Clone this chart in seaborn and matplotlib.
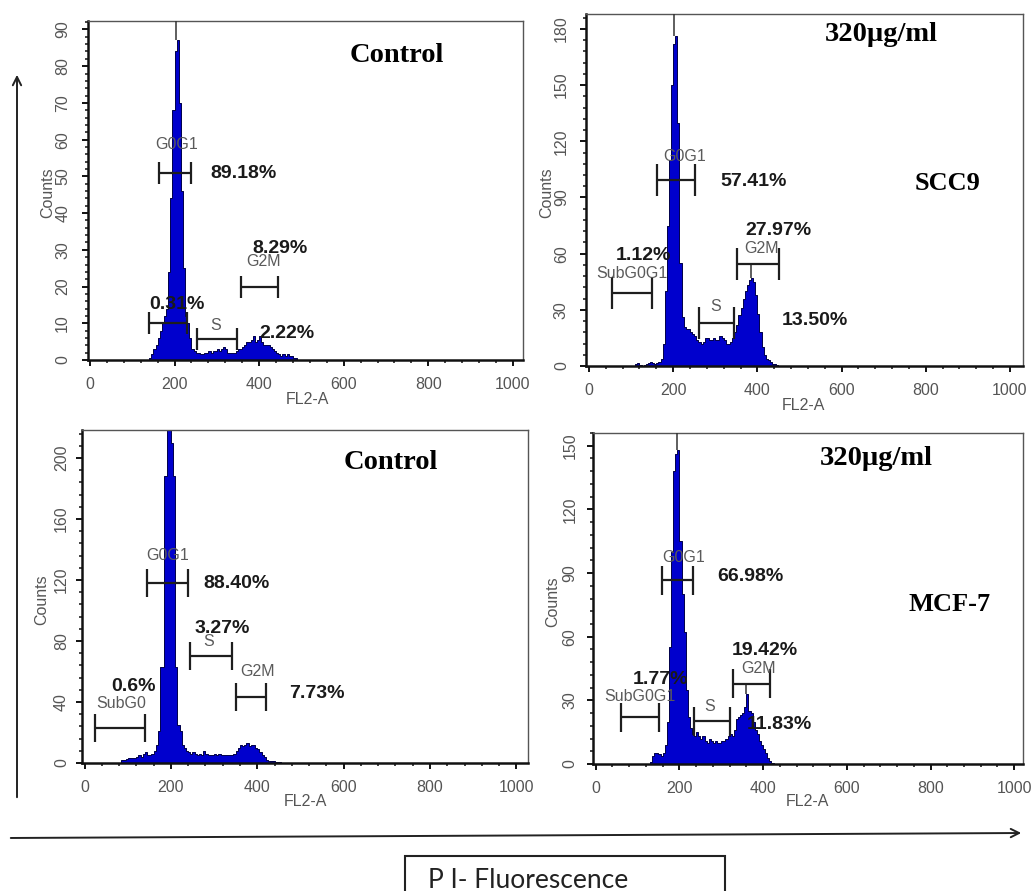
import numpy as np
import pandas as pd
import matplotlib
matplotlib.use("Agg")
import matplotlib.pyplot as plt
from matplotlib.patches import Rectangle, FancyArrowPatch
from matplotlib.ticker import MultipleLocator
import seaborn as sns

# ---------------------------------------------------------------------------
# Data (bin width = 5 channels)
# ---------------------------------------------------------------------------
BIN = 5

# SCC9 control
start_scc9_ctrl = 140
cnt_scc9_ctrl = [0.5, 1.5, 3, 4, 6, 8, 10, 12, 14, 24, 44, 68, 84, 87, 70, 46, 25, 12,
                 10, 6, 3, 2.5, 2, 2, 1.5, 1.5, 2, 2, 2.5, 2, 2.5, 2.5, 3, 2.5, 3, 3.5,
                 3, 2, 2, 2, 2, 2.5, 3, 3, 3.5, 4, 5, 5, 5.5, 6.5, 5, 5.5, 6.5, 5, 4, 4,
                 4, 3.5, 3, 2.5, 2, 1.5, 1, 1.5, 1, 1.5, 1, 1, 0.5, 0.5]

# SCC9 320 ug/ml
start_scc9_320 = 100
cnt_scc9_320 = [0, 0, 1, 1.5, 0.5, 0, 0.5, 1, 1.5, 2, 1.5, 1, 1.5, 2, 4, 12, 40, 75,
                110, 150, 172, 176, 130, 55, 26, 21, 20, 20, 18, 17, 16, 14, 13, 12,
                13, 15, 15, 14, 14, 15, 14, 14, 16, 15, 14, 12, 12, 13, 15, 18, 22, 27,
                31, 36, 40, 43, 46, 47, 45, 38, 28, 18, 10, 6, 4, 3, 2, 1, 1, 0.5]

# MCF-7 control
start_mcf7_ctrl = 85
cnt_mcf7_ctrl = [2, 2, 2.5, 3, 3, 3.5, 3, 4, 5, 4, 6, 7, 5, 5, 6, 8, 12, 21, 63, 63,
                 188, 225, 225, 210, 188, 63, 25, 21, 12, 10, 8, 7, 6, 7, 6, 5, 6, 5,
                 8, 6, 5, 5, 5, 6, 5, 6, 5, 5, 5, 5, 5, 5, 6, 8, 10, 12, 11, 12, 13,
                 11, 12, 12, 10, 9, 7, 5, 4, 2, 1.5, 1, 1, 0.5, 0.5, 0.5, 0.3, 0.3]

# MCF-7 320 ug/ml
start_mcf7_320 = 130
cnt_mcf7_320 = [1, 4, 5, 5, 4.5, 4, 5, 9, 20, 55, 100, 138, 146, 148, 105, 80, 62, 35,
                22, 17, 14, 13, 15, 13, 12, 13, 11, 10, 12, 11, 10, 11, 10, 10, 11, 11,
                12, 13, 14, 13, 16, 21, 22, 23, 24, 27, 33, 25, 24, 20, 16, 14, 11, 9,
                7, 5, 3, 1.5, 0.5]

# cursor lines drawn by the cytometer software: (channel, from count, to count)
spikes_scc9_ctrl = [(203, 87, 93)]
spikes_scc9_320 = [(202, 176, 190), (386, 47, 54.3)]
spikes_mcf7_ctrl = [(195, 225, 219)]
spikes_mcf7_320 = [(195, 148, 157), (358, 33, 37.8)]

# gates: (low channel, high channel, count level)
gates_scc9_ctrl = [(164, 240, 51), (140, 229, 10), (252, 347, 5.7), (356, 445, 20)]
gates_scc9_320 = [(162, 253, 99.4), (55, 150, 38.8), (262, 344, 23), (352, 451, 54.3)]
gates_mcf7_ctrl = [(144, 240, 118.2), (244, 341, 70.4), (351, 420, 43.5), (24, 140, 22.7)]
gates_mcf7_320 = [(159, 232, 86.5), (60, 152, 22), (235, 321, 20.1), (329, 416, 37.8)]

# gate names (text, channel, count)
gnames_scc9_ctrl = [("G0G1", 204, 58.7), ("S", 297, 9.5), ("G2M", 410, 26.7)]
gnames_scc9_320 = [("G0G1", 228, 112), ("SubG0G1", 101, 49.5), ("S", 301, 31.7), ("G2M", 410, 63)]
gnames_mcf7_ctrl = [("G0G1", 192, 136.4), ("S", 287, 79.6), ("G2M", 400, 59.9), ("SubG0", 86, 39.1)]
gnames_mcf7_320 = [("G0G1", 211, 97.4), ("SubG0G1", 106, 31.6), ("S", 273, 27.2), ("G2M", 389, 44.8)]

# phase percentages (text, channel, count)
pct_scc9_ctrl = [("89.18%", 362, 50.7), ("8.29%", 449, 30.3), ("0.31%", 205, 15.2), ("2.22%", 465, 7.2)]
pct_scc9_320 = [("57.41%", 390, 98.5), ("1.12%", 129, 58.8), ("27.97%", 450, 72.3), ("13.50%", 537, 24.2)]
pct_mcf7_ctrl = [("88.40%", 352, 117.8), ("3.27%", 318, 88.3), ("7.73%", 537, 45.7), ("0.6%", 113, 50)]
pct_mcf7_320 = [("66.98%", 369, 88.4), ("1.77%", 154, 40), ("19.42%", 405, 53.5), ("11.83%", 440, 18.5)]

titles = [("Control", 725, 82.9), ("320µg/ml", 695, 176.8),
          ("Control", 709, 197), ("320µg/ml", 671, 144.2)]
cell_lines = [None, ("SCC9", 853, 97.6), None, ("MCF-7", 845, 75)]

y_major = [10, 30, 40, 30]

# ---------------------------------------------------------------------------
# Layout (pixels of a 1032 x 891 canvas)
# ---------------------------------------------------------------------------
W, H = 1032, 891
BLUE = "#0000cd"

sns.set_style("white")
plt.rcParams["font.family"] = ["Liberation Sans", "DejaVu Sans"]

fig = plt.figure(figsize=(W / 100, H / 100), dpi=100)


def fx(px):
    return px / W


def fy(py):
    return 1 - py / H


# left, top, right, bottom in pixels ; xlim ; ylim ; gate cap half height (px)
boxes = [(88, 21, 523, 360), (586, 14, 1023, 366), (82, 430, 528, 763), (593, 433, 1023, 764)]
xlims = [(-4.7, 1024), (-7, 1031), (-5.8, 1027), (-6.5, 1021)]
ylims = [(0, 92.3), (0, 188), (0, 218.4), (0, 156)]
cap_px = [11, 16, 14, 14.5]
ytick_pad = [8.5, 8, 5, 7]
# axis-title centres in pixels: (FL2-A x, FL2-A y, Counts x, Counts y)
label_px = [(307, 399, 48, 193), (803, 406, 547, 193), (305, 802, 42, 600), (807, 802, 553, 602)]

panels = [
    (start_scc9_ctrl, cnt_scc9_ctrl, spikes_scc9_ctrl, gates_scc9_ctrl, gnames_scc9_ctrl, pct_scc9_ctrl),
    (start_scc9_320, cnt_scc9_320, spikes_scc9_320, gates_scc9_320, gnames_scc9_320, pct_scc9_320),
    (start_mcf7_ctrl, cnt_mcf7_ctrl, spikes_mcf7_ctrl, gates_mcf7_ctrl, gnames_mcf7_ctrl, pct_mcf7_ctrl),
    (start_mcf7_320, cnt_mcf7_320, spikes_mcf7_320, gates_mcf7_320, gnames_mcf7_320, pct_mcf7_320),
]

for i, (start, counts, spikes, gates, gnames, pcts) in enumerate(panels):
    l, t, r, b = boxes[i]
    ax = fig.add_axes([fx(l), fy(b), (r - l) / W, (b - t) / H])

    df = pd.DataFrame({
        "channel": start + BIN * np.arange(len(counts)) + BIN / 2,
        "count": counts,
    })
    sns.histplot(data=df, x="channel", weights="count", binwidth=BIN,
                 binrange=(start, start + BIN * len(counts)), element="step",
                 fill=True, color=BLUE, alpha=1, edgecolor="#00004a", linewidth=0.7, ax=ax)

    ax.set_xlim(*xlims[i])
    ax.set_ylim(*ylims[i])

    for x, y0, y1 in spikes:
        ax.vlines(x, y0, y1, color="#333333", lw=1.1, zorder=4)

    # gate markers  |-----|
    h = cap_px[i] * (ylims[i][1] - ylims[i][0]) / (b - t)
    for lo, hi, y in gates:
        ax.plot([lo, hi], [y, y], color="#1e1e1e", lw=1.6, zorder=5, solid_capstyle="butt")
        ax.vlines([lo, hi], y - h, y + h, color="#1e1e1e", lw=1.6, zorder=5)

    for txt, x, y in gnames:
        ax.text(x, y, txt, ha="center", va="center", fontsize=11.5, color="#5a5a5a", zorder=6)
    for txt, x, y in pcts:
        ax.text(x, y, txt, ha="center", va="center", fontsize=14, fontweight="bold",
                color="#1a1a1a", zorder=7)

    txt, x, y = titles[i]
    ax.text(x, y, txt, ha="center", va="center", fontsize=20.5, fontweight="bold",
            family="Liberation Serif", color="black")
    if cell_lines[i] is not None:
        txt, x, y = cell_lines[i]
        ax.text(x, y, txt, ha="center", va="center", fontsize=19, fontweight="bold",
                family="Liberation Serif", color="black")

    # axes styling, CellQuest look
    ax.xaxis.set_major_locator(MultipleLocator(200))
    ax.xaxis.set_minor_locator(MultipleLocator(40))
    ax.yaxis.set_major_locator(MultipleLocator(y_major[i]))
    ax.yaxis.set_minor_locator(MultipleLocator(y_major[i] / 5))
    ax.tick_params(which="both", bottom=True, left=True, top=False, right=False)
    ax.tick_params(which="major", direction="out", length=4.3, width=1.4, color="#111111",
                   labelcolor="#555555", labelsize=11.5, pad=8)
    ax.tick_params(which="minor", direction="out", length=2.3, width=1.1, color="#111111")
    ax.tick_params(axis="y", which="major", labelrotation=90, pad=ytick_pad[i])
    for lab in ax.get_yticklabels():
        lab.set_va("center")
    for side in ("left", "bottom"):
        ax.spines[side].set_linewidth(1.8)
        ax.spines[side].set_color("#111111")
    for side in ("top", "right"):
        ax.spines[side].set_linewidth(1.0)
        ax.spines[side].set_color("#555555")

    ax.set_xlabel("FL2-A", fontsize=11.5, color="#555555", va="center", ha="center")
    ax.set_ylabel("Counts", fontsize=11.5, color="#555555", va="center", ha="center")
    lx, ly, cx, cy = label_px[i]
    ax.xaxis.set_label_coords(fx(lx), fy(ly), transform=fig.transFigure)
    ax.yaxis.set_label_coords(fx(cx), fy(cy), transform=fig.transFigure)

# outer arrows and PI-Fluorescence caption
fig.add_artist(FancyArrowPatch(
    (fx(17), fy(800)), (fx(17), fy(72)), transform=fig.transFigure,
    arrowstyle="->,head_length=6,head_width=3", lw=1.4, color="#222222"))
fig.add_artist(FancyArrowPatch(
    (fx(8), fy(838)), (fx(1024), fy(833)), transform=fig.transFigure,
    arrowstyle="->,head_length=6,head_width=3", lw=1.4, color="#222222"))
fig.add_artist(Rectangle((fx(405), fy(900)), (725 - 405) / W, (900 - 856) / H,
                         transform=fig.transFigure, fill=False, lw=1.5,
                         edgecolor="#222222", clip_on=False))
fig.text(fx(428), fy(888), "P I- Fluorescence", family=["Lato", "DejaVu Sans"],
         fontsize=19, color="#222222", ha="left", va="baseline")

fig.savefig("out.png", dpi=100)
plt.close(fig)
